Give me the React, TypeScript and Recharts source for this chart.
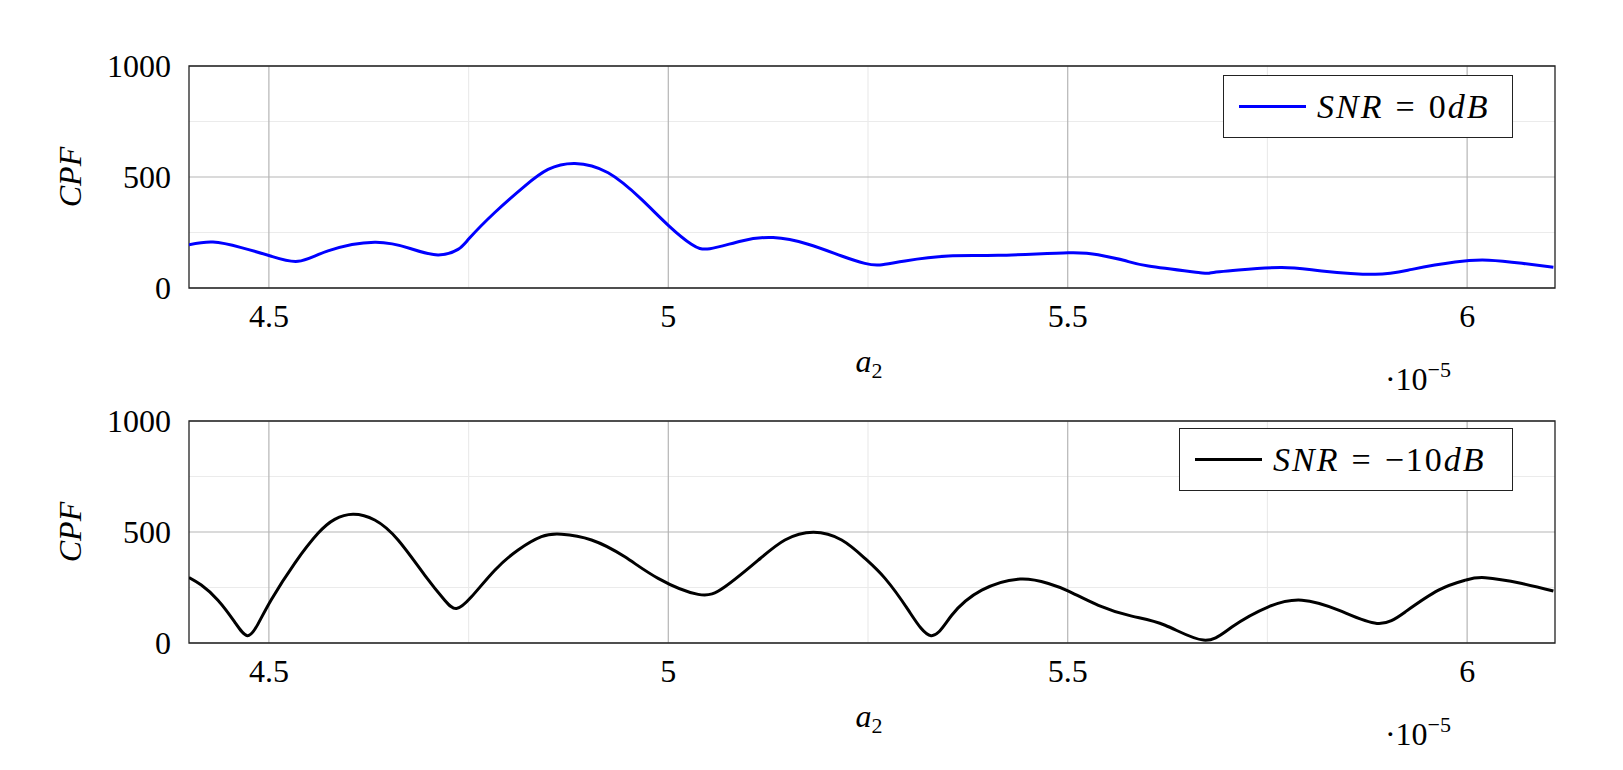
import React from "react";
import {
  LineChart,
  Line,
  XAxis,
  YAxis,
  CartesianGrid,
  ReferenceArea,
  Label,
} from "recharts";

// a2 in units of 1e-5
const topA2 = [
  4.4, 4.43, 4.4655, 4.502, 4.5364, 4.574, 4.6325, 4.678, 4.7118, 4.7368,
  4.7515, 4.7828, 4.8203, 4.8495, 4.883, 4.9247, 4.9665, 5.001, 5.029, 5.052,
  5.0918, 5.1313, 5.175, 5.217, 5.246, 5.265, 5.2963, 5.3505, 5.413, 5.5008,
  5.538, 5.57, 5.601, 5.6637, 5.678, 5.7138, 5.768, 5.818, 5.885, 5.931, 5.985,
  6.027, 6.0687, 6.108,
];
const topCpf = [
  195, 207, 182, 144, 120, 167, 206, 177, 149, 174, 226, 340, 459, 534, 561,
  519, 399, 279, 197, 177, 212, 227, 197, 144, 111, 104, 122, 144, 147, 159,
  150, 125, 99, 70, 68, 81, 92, 77, 62, 84, 117, 125, 111, 93,
];

const bottomA2 = [
  4.4, 4.4154, 4.4362, 4.4571, 4.473, 4.4863, 4.503, 4.5323, 4.5615, 4.5824,
  4.6053, 4.6325, 4.6617, 4.695, 4.7201, 4.7348, 4.7536, 4.7828, 4.812, 4.8412,
  4.8663, 4.9039, 4.9456, 4.9873, 5.0374, 5.0709, 5.1126, 5.146, 5.1815, 5.217,
  5.2462, 5.2713, 5.3005, 5.3289, 5.3548, 5.3924, 5.4403, 5.4758, 5.5009,
  5.5384, 5.5802, 5.6219, 5.6699, 5.7055, 5.7513, 5.7932, 5.839, 5.8871,
  5.9225, 5.9642, 5.9977, 6.0227, 6.0687, 6.108,
];
const bottomCpf = [
  295, 261, 193, 95, 33, 85, 195, 359, 494, 557, 580, 554, 464, 306, 193, 155,
  208, 328, 419, 479, 490, 464, 388, 291, 219, 253, 373, 464, 499, 464, 381,
  291, 148, 33, 125, 238, 288, 268, 234, 170, 121, 80, 13, 72, 163, 193, 148,
  88, 140, 238, 283, 294, 268, 234,
];

const xTicks = [4.5, 5, 5.5, 6];
const xMinor = [4.75, 5.25, 5.75];
const yTicks = [0, 500, 1000];
const yMinor = [250, 750];

const X_DOMAIN: [number, number] = [4.4, 6.11];
const FONT = "Liberation Serif";
const FS = 32;

const toRows = (xs: number[], ys: number[]) =>
  xs.map((a2, i) => ({ a2, cpf: ys[i] }));

const XTick = ({ x, y, payload }: any) => (
  <text x={x} y={y + 39} textAnchor="middle" fontFamily={FONT} fontSize={FS} fill="#000">
    {payload.value}
  </text>
);

const YTick = ({ x, y, payload }: any) => (
  <text x={x} y={y + 11} textAnchor="end" fontFamily={FONT} fontSize={FS} fill="#000">
    {payload.value}
  </text>
);

function LegendBox({ color, label, left, top, width }: any) {
  return (
    <div
      style={{
        position: "absolute",
        left,
        top,
        width,
        height: 63,
        border: "1.3px solid #222",
        background: "#fff",
        display: "flex",
        alignItems: "center",
        boxSizing: "border-box",
        paddingLeft: 15,
        fontFamily: FONT,
        fontSize: 34,
        whiteSpace: "nowrap",
      }}
    >
      <span style={{ display: "inline-block", width: 67, height: 0, borderTop: `3px solid ${color}`, marginRight: 11 }} />
      <span style={{ letterSpacing: 2 }}>{label}</span>
    </div>
  );
}

function Panel({ data, color, marginTop, height, legend }: any) {
  return (
    <div style={{ position: "relative", width: 1623, height }}>
      <LineChart
        width={1623}
        height={height}
        data={data}
        margin={{ top: marginTop, right: 68, bottom: 0, left: 0 }}
      >
        <CartesianGrid stroke="#ebebeb" strokeWidth={1.2} horizontalValues={yMinor} verticalValues={xMinor} />
        <CartesianGrid stroke="#b5b5b5" strokeWidth={1.2} horizontalValues={yTicks} verticalValues={xTicks} />
        <XAxis
          dataKey="a2"
          type="number"
          domain={X_DOMAIN}
          ticks={xTicks}
          allowDataOverflow
          tickLine={false}
          axisLine={false}
          tickSize={0}
          tickMargin={0}
          height={height - marginTop - 222}
          tick={<XTick />}
        >
          <Label
            content={({ viewBox }: any) => (
              <g fontFamily={FONT} fill="#000">
                <text x={869} y={viewBox.y + 84} textAnchor="middle" fontSize={FS}>
                  <tspan fontStyle="italic">a</tspan>
                  <tspan fontSize={22} dy={6}>2</tspan>
                </text>
                <text x={1418} y={viewBox.y + 102} textAnchor="middle" fontSize={FS}>
                  <tspan>·10</tspan>
                  <tspan fontSize={22} dy={-13}>−5</tspan>
                </text>
              </g>
            )}
          />
        </XAxis>
        <YAxis
          type="number"
          domain={[0, 1000]}
          ticks={yTicks}
          width={189}
          tickLine={false}
          axisLine={false}
          tickSize={0}
          tickMargin={18}
          tick={<YTick />}
        >
          <Label
            content={({ viewBox }: any) => {
              const cy = viewBox.y + viewBox.height / 2;
              return (
                <text
                  x={70}
                  y={cy}
                  transform={`rotate(-90 70 ${cy})`}
                  textAnchor="middle"
                  dominantBaseline="central"
                  fontFamily={FONT}
                  fontStyle="italic"
                  fontSize={FS}
                  fill="#000"
                >
                  CPF
                </text>
              );
            }}
          />
        </YAxis>
        <ReferenceArea x1={X_DOMAIN[0]} x2={X_DOMAIN[1]} y1={0} y2={1000} fill="none" stroke="#222" strokeWidth={1.3} />
        <Line
          type="natural"
          dataKey="cpf"
          stroke={color}
          strokeWidth={3}
          dot={false}
          isAnimationActive={false}
        />
      </LineChart>
      <LegendBox color={color} {...legend} />
    </div>
  );
}

const Eq = ({ rhs }: { rhs: string }) => (
  <>
    <i>SNR</i>
    <span style={{ margin: "0 12px" }}>=</span>
    <span>{rhs}</span>
    <i>dB</i>
  </>
);

export default function App() {
  return (
    <div style={{ position: "absolute", left: 0, top: 0, width: 1623, height: 770, background: "#fff" }}>
      <style>{`.recharts-surface { overflow: visible; }`}</style>
      <div style={{ position: "absolute", left: 0, top: 0 }}>
        <Panel
          data={toRows(topA2, topCpf)}
          color="#0000ff"
          marginTop={66}
          height={385}
          legend={{ left: 1223, top: 75, width: 290, label: <Eq rhs="0" /> }}
        />
      </div>
      <div style={{ position: "absolute", left: 0, top: 385 }}>
        <Panel
          data={toRows(bottomA2, bottomCpf)}
          color="#000000"
          marginTop={36}
          height={385}
          legend={{ left: 1179, top: 43, width: 334, label: <Eq rhs="−10" /> }}
        />
      </div>
    </div>
  );
}
